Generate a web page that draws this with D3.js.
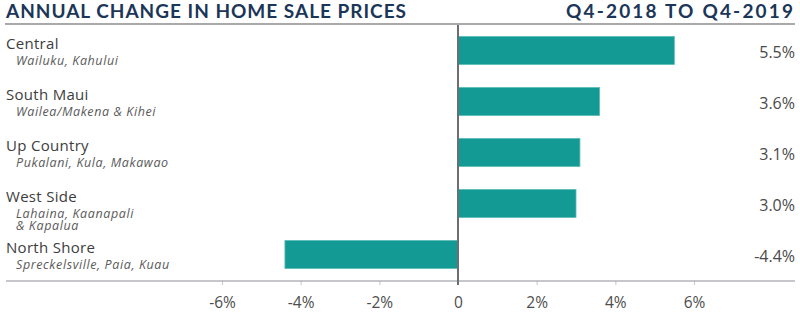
<!DOCTYPE html>
<html>
<head>
<meta charset="utf-8">
<script src="https://cdn.jsdelivr.net/npm/d3@7"></script>
<style>
  html, body { margin: 0; padding: 0; background: #fff; }
  svg { display: block; }
</style>
</head>
<body>
<svg id="chart" width="800" height="322"></svg>
<script>
// Regions of Maui and their year-over-year change in median sale price (%)
const regions = ["Central", "South Maui", "Up Country", "West Side", "North Shore"];
const areas = [
  ["Wailuku, Kahului"],
  ["Wailea/Makena & Kihei"],
  ["Pukalani, Kula, Makawao"],
  ["Lahaina, Kaanapali", "& Kapalua"],
  ["Spreckelsville, Paia, Kuau"]
];
const changes = [5.5, 3.6, 3.1, 3.0, -4.4];
const tickValues = [-6, -4, -2, 0, 2, 4, 6];
const title = "ANNUAL CHANGE IN HOME SALE PRICES";
const period = "Q4-2018 TO Q4-2019";

const svg = d3.select("#chart");
const plotTop = 25, plotBottom = 281;
const labelFont = "'Open Sans', sans-serif";

const x = d3.scaleLinear().domain([-6, 6]).range([222, 694]);
const y = d3.scaleBand().domain(regions).range([plotTop, plotBottom - 1])
  .paddingInner(0.45).paddingOuter(0.225);

const navy = "#1b3658";
const teal = "#149a95";

// Headings
svg.append("text")
  .attr("x", 6).attr("y", 18)
  .attr("font-family", "Lato, sans-serif").attr("font-weight", 700)
  .attr("font-size", 19).attr("fill", navy)
  .attr("textLength", 400).attr("lengthAdjust", "spacing")
  .text(title);

svg.append("text")
  .attr("x", 566).attr("y", 18)
  .attr("font-family", "Lato, sans-serif").attr("font-weight", 700)
  .attr("font-size", 19).attr("fill", navy)
  .attr("textLength", 227).attr("lengthAdjust", "spacing")
  .text(period);

// Rule under the headings
svg.append("line")
  .attr("x1", 5).attr("x2", 795).attr("y1", 24).attr("y2", 24)
  .attr("stroke", "#a9a9a9").attr("stroke-width", 2);

// Vertical gridlines from the axis ticks, running a little past the baseline
const grid = svg.append("g").attr("transform", `translate(0,${plotBottom})`)
  .call(d3.axisBottom(x).tickValues(tickValues)
    .tickSize(-(plotBottom - plotTop - 1)).tickFormat(""));
grid.select(".domain").remove();
grid.selectAll(".tick line")
  .attr("stroke", d => d === 0 ? "none" : "#cfcfcf")
  .attr("stroke-width", 1.2)
  .attr("y2", 4);

// Baseline axis
svg.append("line")
  .attr("x1", 6).attr("x2", 795).attr("y1", plotBottom).attr("y2", plotBottom)
  .attr("stroke", "#8c9097").attr("stroke-width", 1.2);

// Tick labels
const axis = svg.append("g").attr("transform", `translate(0,${plotBottom})`)
  .call(d3.axisBottom(x).tickValues(tickValues).tickSize(0).tickPadding(0)
    .tickFormat(d => d === 0 ? "0" : d + "%"));
axis.select(".domain").remove();
axis.selectAll(".tick text")
  .attr("y", 27).attr("dy", 0)
  .attr("font-family", labelFont).attr("font-size", 15.5)
  .attr("font-weight", 500)
  .attr("fill", "#4d4d4d");

// Bars
svg.append("g").selectAll("rect")
  .data(regions)
  .join("rect")
  .attr("x", (d, i) => x(Math.min(0, changes[i])))
  .attr("y", d => y(d))
  .attr("width", (d, i) => Math.abs(x(changes[i]) - x(0)))
  .attr("height", y.bandwidth())
  .attr("fill", teal)
  .attr("stroke", "#5bbcb6").attr("stroke-width", 0.8);

// Zero line
svg.append("line")
  .attr("x1", x(0)).attr("x2", x(0)).attr("y1", plotTop).attr("y2", plotBottom + 4)
  .attr("stroke", "#6b6e73").attr("stroke-width", 2);

// Category labels with their area names beneath
const lab = svg.append("g").selectAll("g")
  .data(regions)
  .join("g")
  .attr("transform", d => `translate(0,${y(d)})`);

lab.append("text")
  .attr("x", 6).attr("y", 13)
  .attr("font-family", labelFont).attr("font-size", 15)
  .attr("letter-spacing", 0.3)
  .attr("fill", "#3d3d3d")
  .text(d => d);

lab.append("text")
  .attr("font-family", labelFont).attr("font-style", "italic")
  .attr("font-size", 12.5)
  .attr("letter-spacing", 0.6)
  .attr("fill", "#5a5a5a")
  .each(function(d, i) {
    const t = d3.select(this);
    areas[i].forEach((line, k) => {
      t.append("tspan")
        .attr("x", 16).attr("y", 28.5 + k * 12.3)
        .text(line);
    });
  });

// Value labels
svg.append("g").selectAll("text")
  .data(regions)
  .join("text")
  .attr("x", 795)
  .attr("y", d => y(d) + y.bandwidth() / 2 + 7)
  .attr("text-anchor", "end")
  .attr("font-family", labelFont).attr("font-size", 16)
  .attr("fill", "#4a4a4a")
  .text((d, i) => changes[i].toFixed(1) + "%");
</script>
</body>
</html>
